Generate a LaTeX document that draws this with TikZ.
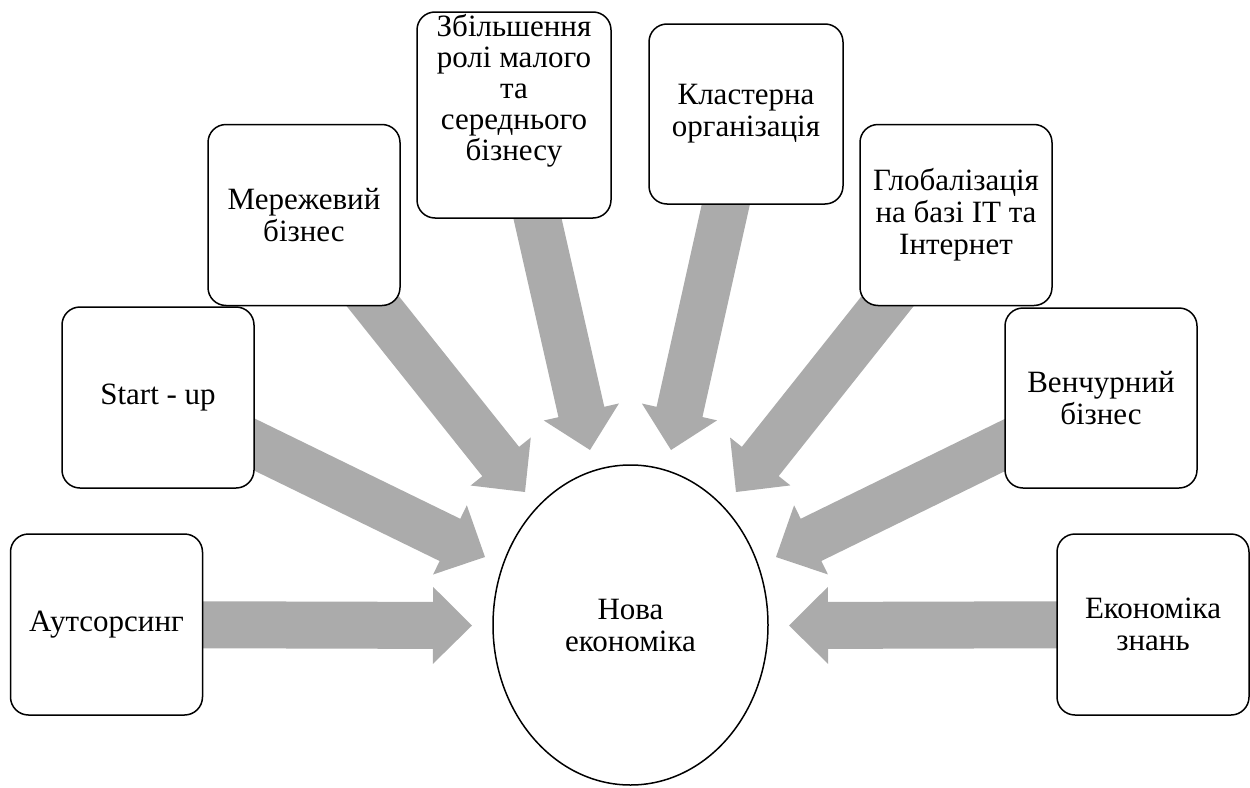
\documentclass[tikz,border=0pt]{standalone}
\usepackage{fontspec}
\setmainfont{LiberationSerif}[Extension=.ttf, UprightFont=*-Regular, BoldFont=*-Bold, ItalicFont=*-Italic, BoldItalicFont=*-BoldItalic]
\newfontfamily\tnrfont{LiberationSerif}[Extension=.ttf, UprightFont=*-Regular]
\usetikzlibrary{calc,shapes.geometric}
\definecolor{arrowgray}{RGB}{171,171,171}
\pgfdeclarelayer{bg}
\pgfsetlayers{bg,main}
\newcommand\blockarrow[2]{%
  \coordinate (ab) at ($(#2)!39pt!(#1)$);
  \fill[arrowgray] ($(#1)!23.5pt!90:(#2)$) -- ($(ab)!23.5pt!-90:(#1)$) -- ($(ab)!38.5pt!-90:(#1)$) -- (#2)
    -- ($(ab)!38.5pt!90:(#1)$) -- ($(ab)!23.5pt!90:(#1)$) -- ($(#1)!23.5pt!-90:(#2)$) -- cycle;}
\begin{document}
\begin{tikzpicture}[x=1pt,y=-1pt,
  txt/.style={align=center, font=\tnrfont\fontsize{31}{32}\selectfont},
  box/.style={txt, draw, line width=1.5pt, rounded corners=18pt, fill=white,
    minimum width=192pt, minimum height=181pt, inner sep=2pt}]
\useasboundingbox (0,0) rectangle (1250,787);
% boxes
\node[box] (b1) at (106.5,624.5) {Аутсорсинг};
\node[box] (b2) at (158,397.5) {Start - up};
\node[box] (b3) at (304,215) {Мережевий\\бізнес};
\node[box, minimum width=194pt, minimum height=206pt] (b4) at (514,115) {};
\node[txt, font=\tnrfont\fontsize{31}{31}\selectfont, anchor=north, inner sep=0pt] (b4t) at (514,14)
  {Збільшення\\ролі малого\\та\\середнього\\бізнесу};
\node[box, minimum width=194pt, minimum height=180pt] (b5) at (746,114) {Кластерна\\організація};
\node[box] (b6) at (956,215) {Глобалізація\\на базі IT та\\Інтернет};
\node[box, minimum height=180pt] (b7) at (1101,398) {Венчурний\\бізнес};
\node[box] (b8) at (1153,624.5) {Економіка\\знань};
% centre
\node[txt, draw, ellipse, line width=1.5pt, fill=white, minimum width=275pt, minimum height=320pt, inner sep=0pt]
  (c) at (630.5,625) {Нова\\економіка};
% arrow tips
\coordinate (t1) at (472,625.5);
\coordinate (t2) at (485,557);
\coordinate (t3) at (525,492);
\coordinate (t4) at (590,450);
\coordinate (t5) at (671,450);
\coordinate (t6) at (736,492);
\coordinate (t7) at (776,557);
\coordinate (t8) at (789,625.5);
\begin{pgfonlayer}{bg}
\blockarrow{b1.center}{t1}
\blockarrow{b2.center}{t2}
\blockarrow{b3.center}{t3}
\blockarrow{b4.center}{t4}
\blockarrow{b5.center}{t5}
\blockarrow{b6.center}{t6}
\blockarrow{b7.center}{t7}
\blockarrow{b8.center}{t8}
\end{pgfonlayer}
\end{tikzpicture}
\end{document}
